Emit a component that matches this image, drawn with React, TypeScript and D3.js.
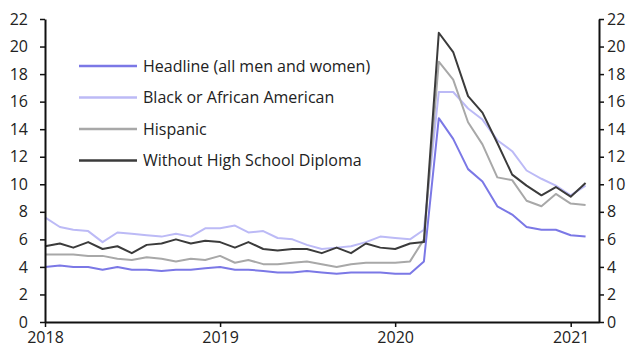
import { useEffect, useRef } from "react"
import * as d3 from "d3"

// monthly, Jan 2018 .. Feb 2021 (%)
const months = d3.timeMonths(new Date(2018, 0, 1), new Date(2021, 2, 1))

const headline = [
    4.0, 4.1, 4.0, 4.0, 3.8, 4.0, 3.8, 3.8, 3.7, 3.8, 3.8, 3.9,
    4.0, 3.8, 3.8, 3.7, 3.6, 3.6, 3.7, 3.6, 3.5, 3.6, 3.6, 3.6,
    3.5, 3.5, 4.4, 14.8, 13.3, 11.1, 10.2, 8.4, 7.8, 6.9, 6.7, 6.7,
    6.3, 6.2,
]
const black = [
    7.6, 6.9, 6.7, 6.6, 5.8, 6.5, 6.4, 6.3, 6.2, 6.4, 6.2, 6.8,
    6.8, 7.0, 6.5, 6.6, 6.1, 6.0, 5.6, 5.3, 5.4, 5.5, 5.8, 6.2,
    6.1, 6.0, 6.7, 16.7, 16.7, 15.5, 14.7, 13.2, 12.4, 11.0, 10.4, 9.9,
    9.2, 9.9,
]
const hispanic = [
    4.9, 4.9, 4.9, 4.8, 4.8, 4.6, 4.5, 4.7, 4.6, 4.4, 4.6, 4.5,
    4.8, 4.3, 4.5, 4.2, 4.2, 4.3, 4.4, 4.2, 4.0, 4.2, 4.3, 4.3,
    4.3, 4.4, 6.0, 18.9, 17.6, 14.5, 12.9, 10.5, 10.3, 8.8, 8.4, 9.3,
    8.6, 8.5,
]
const noDiploma = [
    5.5, 5.7, 5.4, 5.8, 5.3, 5.5, 5.0, 5.6, 5.7, 6.0, 5.7, 5.9,
    5.8, 5.4, 5.8, 5.3, 5.2, 5.3, 5.3, 5.0, 5.4, 5.0, 5.7, 5.4,
    5.3, 5.7, 5.8, 21.0, 19.6, 16.4, 15.2, 13.0, 10.7, 9.9, 9.2, 9.8,
    9.1, 10.1,
]

const seriesNames = [
    "Headline (all men and women)",
    "Black or African American",
    "Hispanic",
    "Without High School Diploma",
]
const seriesValues = [headline, black, hispanic, noDiploma]
const seriesColors = ["#7b78e6", "#bcbaf6", "#a8a8a8", "#3b3b3b"]
// draw order: light first, dark on top
const drawOrder = [1, 2, 0, 3]

const yTicks = d3.range(0, 23, 2)
const yearTicks = [2018, 2019, 2020, 2021].map((y) => new Date(y, 0, 1))

const W = 632
const H = 349
const FONT = "'Open Sans', sans-serif"

export default function App() {
    const svgRef = useRef<SVGSVGElement | null>(null)

    useEffect(() => {
        if (!svgRef.current) return
        const svg = d3.select(svgRef.current)
        svg.selectAll("*").remove()

        const margin = { top: 19, right: 33, bottom: 27, left: 45 }
        const innerWidth = W - margin.left - margin.right
        const innerHeight = H - margin.top - margin.bottom

        const x = d3
            .scaleTime()
            .domain([new Date(2018, 0, 1), new Date(2021, 2, 1)])
            .range([0, innerWidth])
        const y = d3.scaleLinear().domain([0, 22]).range([innerHeight, 0])

        const g = svg.append("g").attr("transform", `translate(${margin.left},${margin.top})`)

        const line = d3
            .line<number>()
            .x((_, i) => x(months[i]))
            .y((d) => y(d))

        drawOrder.forEach((k) => {
            g.append("path")
                .datum(seriesValues[k])
                .attr("fill", "none")
                .attr("stroke", seriesColors[k])
                .attr("stroke-width", 2)
                .attr("stroke-linejoin", "round")
                .attr("d", line)
        })

        const styleAxis = (sel: d3.Selection<SVGGElement, unknown, null, undefined>) => {
            sel.select(".domain").attr("stroke", "#111").attr("stroke-width", 2)
            sel.selectAll(".tick line").attr("stroke", "#111").attr("stroke-width", 1.5)
            sel.selectAll(".tick text")
                .attr("fill", "#222")
                .attr("font-family", FONT)
                .attr("font-size", 16)
        }

        g.append("g")
            .call(d3.axisLeft(y).tickValues(yTicks).tickSize(5).tickSizeOuter(0).tickPadding(12))
            .call(styleAxis)

        g.append("g")
            .attr("transform", `translate(${innerWidth},0)`)
            .call(d3.axisRight(y).tickValues(yTicks).tickSize(5).tickSizeOuter(0).tickPadding(3))
            .call(styleAxis)

        g.append("g")
            .attr("transform", `translate(0,${innerHeight})`)
            .call(
                d3
                    .axisBottom(x)
                    .tickValues(yearTicks)
                    .tickSize(5)
                    .tickSizeOuter(0)
                    .tickPadding(5)
                    .tickFormat((d) => d3.timeFormat("%Y")(d as Date))
            )
            .call(styleAxis)

        // Legend
        const legend = svg.append("g").attr("transform", "translate(79,66)")
        seriesNames.forEach((name, i) => {
            const row = legend.append("g").attr("transform", `translate(0,${i * 31.5})`)
            row.append("line")
                .attr("x1", 0)
                .attr("x2", 58)
                .attr("stroke", seriesColors[i])
                .attr("stroke-width", 2.5)
            row.append("text")
                .attr("x", 64)
                .attr("dy", "0.35em")
                .attr("fill", "#222")
                .attr("font-family", FONT)
                .attr("font-size", 16)
                .text(name)
        })
    }, [])

    return (
        <div style={{ position: "absolute", left: 0, top: 0, background: "#fff" }}>
            <svg ref={svgRef} width={W} height={H} />
        </div>
    )
}
